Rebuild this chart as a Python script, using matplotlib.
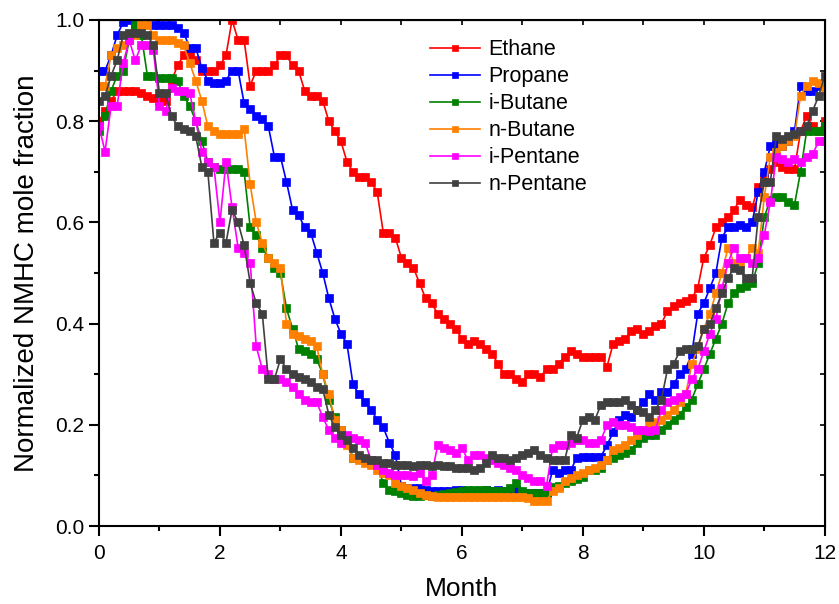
import numpy as np
import matplotlib
matplotlib.use("Agg")
import matplotlib.pyplot as plt
from matplotlib.ticker import MultipleLocator

plt.rcParams['font.family'] = ['Liberation Sans', 'DejaVu Sans']

# sampling times (months), one every 0.1 month
month = np.arange(121) / 10

ethane = [0.80, 0.82, 0.84, 0.86, 0.86, 0.86, 0.86, 0.855, 0.85, 0.845,
          0.84, 0.84, 0.88, 0.91, 0.93, 0.93, 0.92, 0.90, 0.90, 0.90,
          0.91, 0.93, 1.00, 0.96, 0.96, 0.87, 0.90, 0.90, 0.90, 0.91,
          0.93, 0.93, 0.91, 0.90, 0.86, 0.85, 0.85, 0.84, 0.80, 0.78,
          0.76, 0.72, 0.70, 0.69, 0.69, 0.68, 0.66, 0.58, 0.58, 0.57,
          0.53, 0.52, 0.51, 0.48, 0.45, 0.44, 0.42, 0.41, 0.40, 0.39,
          0.37, 0.36, 0.365, 0.36, 0.35, 0.34, 0.32, 0.30, 0.30, 0.29,
          0.285, 0.30, 0.30, 0.295, 0.31, 0.31, 0.32, 0.335, 0.345, 0.34,
          0.335, 0.335, 0.335, 0.335, 0.315, 0.36, 0.365, 0.37, 0.385, 0.39,
          0.38, 0.385, 0.395, 0.40, 0.425, 0.435, 0.44, 0.445, 0.45, 0.47,
          0.53, 0.555, 0.59, 0.60, 0.61, 0.625, 0.645, 0.635, 0.63, 0.67,
          0.69, 0.705, 0.72, 0.71, 0.705, 0.705, 0.78, 0.81, 0.79, 0.78,
          0.80]

propane = [0.90, 0.90, 0.93, 0.97, 0.995, 1.0, 0.99, 0.99, 1.0, 0.99,
           0.99, 0.99, 0.99, 0.985, 0.975, 0.945, 0.945, 0.905, 0.88, 0.875,
           0.875, 0.88, 0.90, 0.90, 0.835, 0.825, 0.81, 0.805, 0.79, 0.73,
           0.73, 0.68, 0.625, 0.615, 0.59, 0.58, 0.54, 0.50, 0.45, 0.41,
           0.38, 0.36, 0.28, 0.26, 0.245, 0.23, 0.21, 0.195, 0.165, 0.14,
           0.08, 0.075, 0.075, 0.075, 0.072, 0.07, 0.07, 0.07, 0.07, 0.072,
           0.072, 0.07, 0.07, 0.07, 0.072, 0.07, 0.072, 0.07, 0.07, 0.072,
           0.066, 0.065, 0.066, 0.065, 0.065, 0.11, 0.105, 0.11, 0.11, 0.135,
           0.136, 0.136, 0.136, 0.137, 0.16, 0.185, 0.21, 0.22, 0.215, 0.23,
           0.245, 0.26, 0.25, 0.265, 0.265, 0.28, 0.30, 0.31, 0.34, 0.42,
           0.44, 0.47, 0.50, 0.57, 0.59, 0.59, 0.595, 0.59, 0.60, 0.66,
           0.70, 0.75, 0.755, 0.75, 0.76, 0.78, 0.87, 0.86, 0.86, 0.87,
           0.87]

i_butane = [0.78, 0.81, 0.86, 0.89, 0.90, 0.96, 0.99, 0.97, 0.89, 0.89,
            0.885, 0.885, 0.885, 0.88, 0.85, 0.83, 0.80, 0.76, 0.72, 0.71,
            0.705, 0.705, 0.705, 0.705, 0.70, 0.59, 0.575, 0.55, 0.53, 0.51,
            0.50, 0.43, 0.39, 0.35, 0.345, 0.34, 0.33, 0.30, 0.25, 0.215,
            0.19, 0.17, 0.135, 0.135, 0.13, 0.128, 0.12, 0.085, 0.072, 0.07,
            0.065, 0.062, 0.06, 0.06, 0.062, 0.06, 0.062, 0.063, 0.065, 0.068,
            0.07, 0.072, 0.072, 0.072, 0.072, 0.07, 0.07, 0.07, 0.075, 0.085,
            0.07, 0.066, 0.065, 0.065, 0.066, 0.077, 0.08, 0.085, 0.09, 0.093,
            0.097, 0.11, 0.11, 0.115, 0.13, 0.135, 0.14, 0.145, 0.15, 0.165,
            0.175, 0.18, 0.18, 0.19, 0.20, 0.21, 0.22, 0.235, 0.25, 0.28,
            0.31, 0.34, 0.37, 0.40, 0.44, 0.46, 0.47, 0.475, 0.48, 0.52,
            0.61, 0.645, 0.65, 0.65, 0.64, 0.635, 0.70, 0.78, 0.78, 0.78,
            0.79]

n_butane = [0.87, 0.87, 0.93, 0.945, 0.95, 0.96, 0.97, 0.99, 0.99, 0.97,
            0.96, 0.96, 0.96, 0.955, 0.95, 0.915, 0.88, 0.84, 0.79, 0.78,
            0.775, 0.775, 0.775, 0.775, 0.785, 0.675, 0.60, 0.56, 0.53, 0.52,
            0.51, 0.40, 0.38, 0.375, 0.37, 0.365, 0.355, 0.30, 0.26, 0.21,
            0.19, 0.16, 0.135, 0.13, 0.125, 0.12, 0.11, 0.105, 0.10, 0.085,
            0.08, 0.075, 0.072, 0.065, 0.062, 0.06, 0.058, 0.058, 0.057, 0.057,
            0.057, 0.057, 0.057, 0.057, 0.057, 0.057, 0.057, 0.057, 0.057, 0.057,
            0.057, 0.055, 0.05, 0.05, 0.05, 0.07, 0.075, 0.09, 0.095, 0.10,
            0.105, 0.11, 0.115, 0.12, 0.13, 0.15, 0.155, 0.16, 0.17, 0.18,
            0.19, 0.20, 0.205, 0.21, 0.22, 0.23, 0.245, 0.26, 0.32, 0.35,
            0.39, 0.42, 0.46, 0.50, 0.55, 0.52, 0.52, 0.53, 0.55, 0.54,
            0.65, 0.73, 0.74, 0.75, 0.76, 0.77, 0.85, 0.87, 0.88, 0.875,
            0.86]

i_pentane = [0.79, 0.74, 0.83, 0.83, 0.915, 0.96, 0.92, 0.95, 0.95, 0.94,
             0.83, 0.82, 0.865, 0.86, 0.86, 0.855, 0.80, 0.74, 0.72, 0.71,
             0.60, 0.72, 0.63, 0.55, 0.54, 0.52, 0.355, 0.31, 0.30, 0.29,
             0.29, 0.285, 0.275, 0.26, 0.25, 0.245, 0.245, 0.215, 0.19, 0.175,
             0.165, 0.18, 0.175, 0.17, 0.165, 0.13, 0.12, 0.11, 0.105, 0.10,
             0.10, 0.10, 0.098, 0.105, 0.09, 0.10, 0.16, 0.155, 0.15, 0.145,
             0.155, 0.13, 0.14, 0.14, 0.135, 0.13, 0.125, 0.12, 0.115, 0.11,
             0.10, 0.095, 0.09, 0.09, 0.08, 0.155, 0.16, 0.16, 0.165, 0.17,
             0.17, 0.165, 0.165, 0.17, 0.20, 0.205, 0.20, 0.20, 0.195, 0.19,
             0.19, 0.188, 0.19, 0.23, 0.245, 0.25, 0.255, 0.26, 0.29, 0.31,
             0.345, 0.38, 0.41, 0.47, 0.52, 0.55, 0.53, 0.53, 0.52, 0.53,
             0.575, 0.64, 0.73, 0.725, 0.72, 0.725, 0.72, 0.73, 0.735, 0.76,
             0.76]

n_pentane = [0.84, 0.85, 0.89, 0.92, 0.97, 0.975, 0.975, 0.975, 0.97, 0.95,
             0.855, 0.855, 0.81, 0.79, 0.785, 0.78, 0.77, 0.71, 0.70, 0.56,
             0.58, 0.56, 0.625, 0.60, 0.555, 0.48, 0.44, 0.42, 0.29, 0.29,
             0.33, 0.31, 0.30, 0.295, 0.29, 0.285, 0.275, 0.27, 0.22, 0.195,
             0.18, 0.17, 0.155, 0.14, 0.135, 0.13, 0.13, 0.125, 0.125, 0.12,
             0.12, 0.12, 0.118, 0.12, 0.12, 0.118, 0.12, 0.118, 0.118, 0.115,
             0.115, 0.115, 0.11, 0.115, 0.125, 0.14, 0.135, 0.135, 0.13, 0.135,
             0.14, 0.145, 0.15, 0.14, 0.135, 0.13, 0.13, 0.13, 0.18, 0.175,
             0.21, 0.215, 0.21, 0.24, 0.245, 0.245, 0.245, 0.25, 0.24, 0.23,
             0.225, 0.215, 0.23, 0.25, 0.31, 0.32, 0.345, 0.35, 0.35, 0.355,
             0.39, 0.40, 0.43, 0.46, 0.49, 0.51, 0.505, 0.49, 0.49, 0.61,
             0.68, 0.68, 0.77, 0.765, 0.77, 0.775, 0.78, 0.79, 0.82, 0.85,
             0.89]

noms = ["Ethane", "Propane", "i-Butane", "n-Butane", "i-Pentane", "n-Pentane"]
series = [ethane, propane, i_butane, n_butane, i_pentane, n_pentane]
couleurs = ["#ff0000", "#0000ff", "#008000", "#ff8000", "#ff00ff", "#404040"]

fig = plt.figure(figsize=(8.39, 6.04), dpi=100)
ax = fig.add_axes([0.118, 0.129, 0.865, 0.838])

for nom, y, c in zip(noms, series, couleurs):
    ax.plot(month, y, color=c, marker="s", markersize=5.5, linewidth=1.2,
            markeredgewidth=0.5, label=nom)

ax.set_xlim(0, 12)
ax.set_ylim(0, 1.0)
ax.xaxis.set_major_locator(MultipleLocator(2))
ax.xaxis.set_minor_locator(MultipleLocator(1))
ax.yaxis.set_major_locator(MultipleLocator(0.2))
ax.yaxis.set_minor_locator(MultipleLocator(0.1))
ax.yaxis.set_major_formatter(plt.FormatStrFormatter("%.1f"))

ax.tick_params(which="major", direction="out", length=7, width=1.5, labelsize=15)
ax.tick_params(axis="x", which="major", pad=6)
ax.tick_params(which="minor", direction="out", length=3.5, width=1.5)
for s in ax.spines.values():
    s.set_linewidth(1.5)

# ticks inward on top and right, no labels
haut = ax.secondary_xaxis("top")
haut.set_xticks(np.arange(0, 13, 1))
haut.tick_params(direction="in", length=3.5, width=1.2, labeltop=False)
droite = ax.secondary_yaxis("right")
droite.set_yticks(np.arange(0, 1.01, 0.1))
droite.tick_params(direction="in", length=3.5, width=1.2, labelright=False)

ax.set_xlabel("Month", fontsize=19, labelpad=10)
ax.set_ylabel("Normalized NMHC mole fraction", fontsize=20, labelpad=11)

ax.legend(loc="upper left", bbox_to_anchor=(0.43, 1.0), frameon=False,
          fontsize=15.5, handlelength=2.3, labelspacing=0.28, handletextpad=0.4,
          markerscale=0.8)

plt.savefig("out.png", dpi=100)
